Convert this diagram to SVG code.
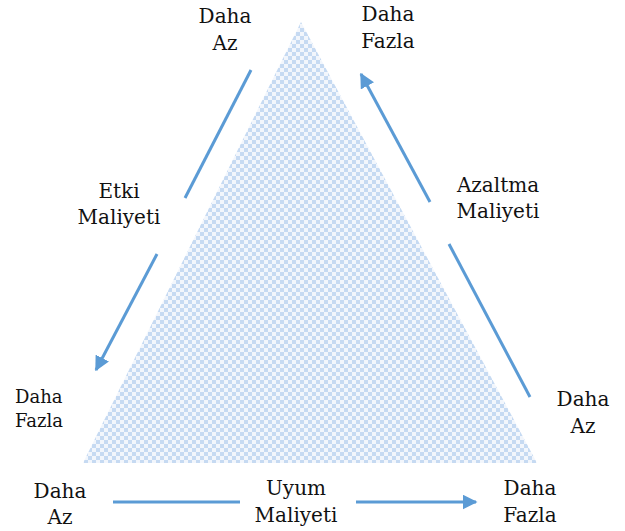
<svg xmlns="http://www.w3.org/2000/svg" width="625" height="531" viewBox="0 0 625 531">
<style>
text{font-family:"DejaVu Serif","Liberation Serif",serif;font-size:20px;fill:#111;text-anchor:middle}
.sm{font-size:18px}
.c{stroke:#5b9bd5;stroke-width:3;fill:none}
</style>
<defs>
<pattern id="chk" patternUnits="userSpaceOnUse" width="8" height="8">
<rect width="8" height="8" fill="#f2f6fc"/>
<rect width="4" height="4" fill="#c6daf2"/>
<rect x="4" y="4" width="4" height="4" fill="#c6daf2"/>
</pattern>
<marker id="ah" viewBox="0 0 10 10" refX="9" refY="5" markerWidth="5" markerHeight="5" orient="auto" markerUnits="strokeWidth">
<path d="M0,0 L10,5 L0,10 z" fill="#5b9bd5"/>
</marker>
</defs>
<g id="triangle">
<polygon points="301,22 83,463 537,463" fill="url(#chk)"/>
</g>
<g id="connectors">
<line class="c" x1="251" y1="70" x2="185" y2="198"/>
<line class="c" x1="157" y1="254" x2="96" y2="370" marker-end="url(#ah)"/>
<line class="c" x1="530" y1="397" x2="449" y2="244"/>
<line class="c" x1="430" y1="202" x2="361" y2="74" marker-end="url(#ah)"/>
<line class="c" x1="113" y1="502" x2="240" y2="502"/>
<line class="c" x1="356" y1="502" x2="476" y2="502" marker-end="url(#ah)"/>
</g>
<g id="top-left"><text x="225" y="23">Daha</text><text x="225" y="50">Az</text></g>
<g id="top-right"><text x="388" y="21">Daha</text><text x="388" y="48">Fazla</text></g>
<g id="etki"><text x="119" y="198">Etki</text><text x="119" y="224">Maliyeti</text></g>
<g id="azaltma"><text x="498" y="192">Azaltma</text><text x="498" y="218">Maliyeti</text></g>
<g id="left-fazla"><text class="sm" x="15" y="403" style="text-anchor:start">Daha</text><text class="sm" x="15" y="427" style="text-anchor:start">Fazla</text></g>
<g id="right-az"><text x="583" y="406">Daha</text><text x="583" y="433">Az</text></g>
<g id="bottom-left"><text x="60" y="498">Daha</text><text x="60" y="524">Az</text></g>
<g id="uyum"><text x="296" y="495">Uyum</text><text x="296" y="522">Maliyeti</text></g>
<g id="bottom-right"><text x="530" y="495">Daha</text><text x="530" y="522">Fazla</text></g>
</svg>
